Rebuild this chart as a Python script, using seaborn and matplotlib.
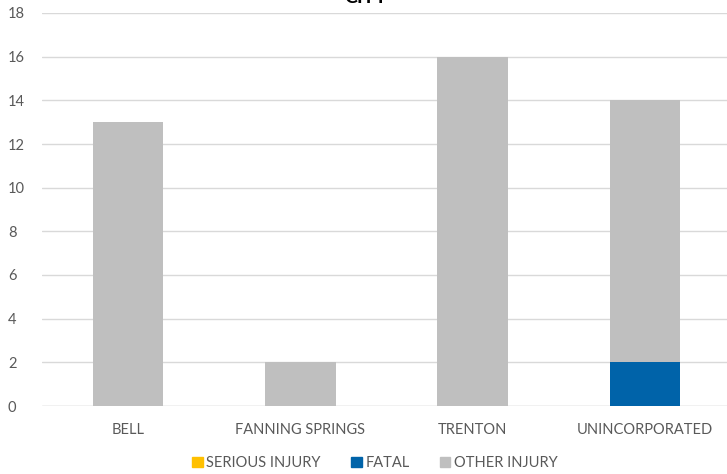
import matplotlib
matplotlib.use("Agg")
import matplotlib.pyplot as plt
import seaborn as sns
import numpy as np
import pandas as pd
from matplotlib.patches import Patch

categories = ["BELL", "FANNING SPRINGS", "TRENTON", "UNINCORPORATED"]
serious_injury = [0, 0, 0, 0]
fatal = [0, 0, 0, 2]
other_injury = [13, 2, 16, 12]
yticks = [0, 2, 4, 6, 8, 10, 12, 14, 16, 18]

sns.set_theme(style="white")
plt.rcParams['font.family'] = ['Lato', 'DejaVu Sans']

c_serious = "#FFC000"
c_fatal = "#0063A9"
c_other = "#BFBFBF"
txt = "#595959"

fig = plt.figure(figsize=(7.27, 4.74), dpi=100)
ax = fig.add_axes([42/727, 68/474, 689/727, 393/474])

s = np.array(serious_injury)
f = np.array(fatal)
o = np.array(other_injury)
df = pd.DataFrame({"cat": categories, "top": s + f + o, "mid": s + f, "bot": s})

kw = dict(width=0.41, ax=ax, saturation=1, zorder=3, linewidth=0)
sns.barplot(data=df, x="cat", y="top", color=c_other, **kw)
sns.barplot(data=df, x="cat", y="mid", color=c_fatal, **kw)
sns.barplot(data=df, x="cat", y="bot", color=c_serious, **kw)

ax.set_ylim(0, 18)
ax.set_xlim(-0.5, 3.5)
ax.set_yticks(yticks)
ax.yaxis.grid(True, color="#D9D9D9", linewidth=1.0, zorder=0)
ax.set_axisbelow(True)
for sp in ax.spines.values():
    sp.set_visible(False)
ax.axhline(0, color="#D9D9D9", linewidth=1.0, zorder=2)
ax.set_xlabel("")
ax.set_ylabel("")
ax.tick_params(axis="both", length=0, labelsize=10.5, colors=txt)
ax.tick_params(axis="x", pad=12)
ax.tick_params(axis="y", pad=24.5)
for lab in ax.get_yticklabels():
    lab.set_horizontalalignment("left")

fig.text(366/727, 1 - 3/474, "CITY", ha="center", va="baseline",
         fontsize=14, fontweight="bold", color="#000000")

handles = [Patch(color=c_serious, label="SERIOUS INJURY"),
           Patch(color=c_fatal, label="FATAL"),
           Patch(color=c_other, label="OTHER INJURY")]
leg = fig.legend(handles=handles, loc="center", bbox_to_anchor=(375/727, 1 - 463/474),
                 ncol=3, frameon=False, fontsize=10.5, handlelength=0.7, handleheight=0.7,
                 handletextpad=0.25, columnspacing=2.1)
for t in leg.get_texts():
    t.set_color(txt)

fig.savefig("out.png", dpi=100)
